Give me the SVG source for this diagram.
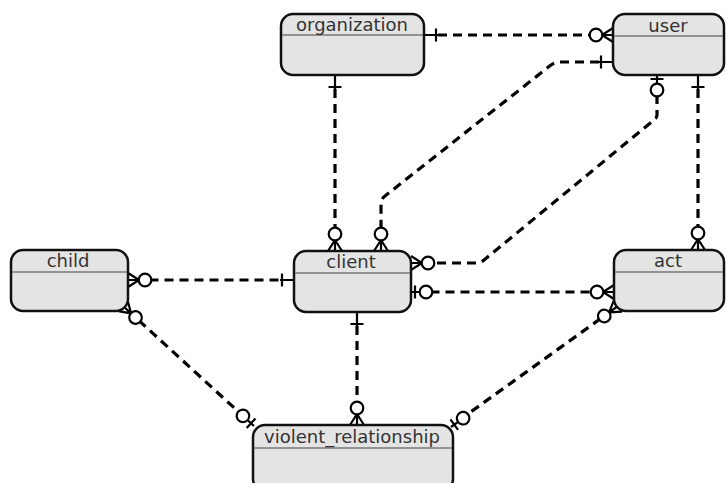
<svg xmlns="http://www.w3.org/2000/svg" xmlns:xlink="http://www.w3.org/1999/xlink" width="726" height="483" viewBox="0 0 726 483">
<style>
.box{fill:#e4e4e4;stroke:#111;stroke-width:2.5}
.sep{stroke:#777;stroke-width:1.5}
.lbl{font-family:"DejaVu Sans",sans-serif;font-size:18px;fill:#333;text-anchor:middle}
.conn{fill:none;stroke:#000;stroke-width:3.2;stroke-dasharray:9 6}
.mk{fill:none;stroke:#000;stroke-width:2.2}
.mk circle{fill:#fff}
</style>
<defs>
<g id="zm" class="mk"><path d="M11 0 L0 -7 M11 0 L0 0 M11 0 L0 7"/><circle cx="17" cy="0" r="6.3"/></g>
<g id="one" class="mk"><path d="M0 0 L14 0 M12 -6.5 L12 6.5"/></g>
<g id="zo" class="mk"><path d="M0 0 L8 0 M4 -6.5 L4 6.5"/><circle cx="15" cy="0" r="6.3"/></g>
</defs>
<g id="connectors">
<path class="conn" d="M438 35 L591 35"/>
<path class="conn" d="M335 89 L335 229.5"/>
<path class="conn" d="M599 62 L560 62 Q555 62 551 65 L385 196 Q381 199 381 205 L381 229.5"/>
<path class="conn" d="M657 95 L657 115 Q657 118 654 120 L484 260 Q481 263 477 263 L433 263"/>
<path class="conn" d="M698 89 L698 228.5"/>
<path class="conn" d="M149.5 280 L280 280"/>
<path class="conn" d="M430.5 292 L592.5 292"/>
<path class="conn" d="M138.9 320.5 L239.6 412.8"/>
<path class="conn" d="M357 326 L357 403.5"/>
<path class="conn" d="M600.6 318.6 L465.8 415.5"/>
<use xlink:href="#one" transform="translate(424 35)"/>
<use xlink:href="#zm" transform="translate(613 35) rotate(180)"/>
<use xlink:href="#one" transform="translate(335 75) rotate(90)"/>
<use xlink:href="#zm" transform="translate(335 251) rotate(-90)"/>
<use xlink:href="#one" transform="translate(613 62) rotate(180)"/>
<use xlink:href="#zm" transform="translate(381 251) rotate(-90)"/>
<use xlink:href="#zo" transform="translate(657 75) rotate(90)"/>
<use xlink:href="#zm" transform="translate(411 263)"/>
<use xlink:href="#one" transform="translate(698 75) rotate(90)"/>
<use xlink:href="#zm" transform="translate(698 250) rotate(-90)"/>
<use xlink:href="#zm" transform="translate(128 280)"/>
<use xlink:href="#one" transform="translate(294 280) rotate(180)"/>
<use xlink:href="#zo" transform="translate(411 292)"/>
<use xlink:href="#zm" transform="translate(614 292) rotate(180)"/>
<use xlink:href="#zm" transform="translate(123 306) rotate(42.5)"/>
<use xlink:href="#zo" transform="translate(254 426) rotate(222.5)"/>
<use xlink:href="#one" transform="translate(357 312) rotate(90)"/>
<use xlink:href="#zm" transform="translate(357 425) rotate(-90)"/>
<use xlink:href="#zm" transform="translate(618 306) rotate(144)"/>
<use xlink:href="#zo" transform="translate(451 427) rotate(-36)"/>
</g>
<g id="organization"><rect class="box" x="281" y="14" width="143" height="61" rx="12"/><line class="sep" x1="282" y1="35" x2="423" y2="35"/><text class="lbl" x="352" y="31">organization</text></g>
<g id="user"><rect class="box" x="613" y="14" width="111" height="61" rx="12"/><line class="sep" x1="614" y1="36" x2="723" y2="36"/><text class="lbl" x="668" y="32">user</text></g>
<g id="child"><rect class="box" x="11" y="250" width="117" height="61" rx="12"/><line class="sep" x1="12" y1="272" x2="127" y2="272"/><text class="lbl" x="68" y="267">child</text></g>
<g id="client"><rect class="box" x="294" y="251" width="117" height="61" rx="12"/><line class="sep" x1="295" y1="273" x2="410" y2="273"/><text class="lbl" x="351" y="268">client</text></g>
<g id="act"><rect class="box" x="614" y="250" width="110" height="61" rx="12"/><line class="sep" x1="615" y1="272" x2="723" y2="272"/><text class="lbl" x="668" y="267">act</text></g>
<g id="violent_relationship"><rect class="box" x="253" y="425" width="200" height="66" rx="12"/><line class="sep" x1="254" y1="448" x2="452" y2="448"/><text class="lbl" x="352" y="443">violent_relationship</text></g>
</svg>
